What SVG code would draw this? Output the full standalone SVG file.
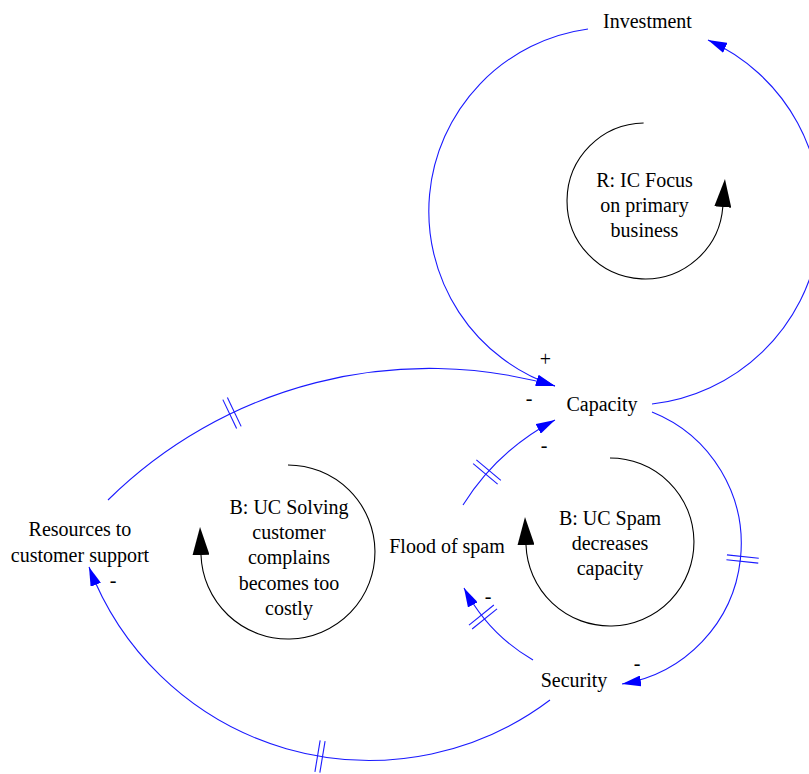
<svg xmlns="http://www.w3.org/2000/svg" xmlns:xlink="http://www.w3.org/1999/xlink" width="809" height="774" viewBox="0 0 809 774">
  <style>
    .label { font-family: "Liberation Serif", "Times New Roman", serif; font-size: 20px; fill: #000; text-anchor: middle; }
    .sign { font-family: "Liberation Serif", "Times New Roman", serif; font-size: 20px; fill: #000; text-anchor: middle; }
    .link { fill: none; stroke: #1a1aff; stroke-width: 1.1; marker-end: url(#arrow-link); }
    .loop { fill: none; stroke: #000; stroke-width: 1.1; marker-end: url(#arrow-loop); }
    .delay line { stroke: #1a1aff; stroke-width: 1.1; }
  </style>
  <defs>
    <marker id="arrow-link" viewBox="0 0 19 11" refX="19" refY="5.5" markerWidth="19" markerHeight="11" markerUnits="userSpaceOnUse" orient="auto">
      <path d="M0,0 L19,5.5 L0,11 z" fill="#0000ff"/>
    </marker>
    <marker id="arrow-loop" viewBox="0 0 28 17" refX="0" refY="8.5" markerWidth="28" markerHeight="17" markerUnits="userSpaceOnUse" orient="auto">
      <path d="M0,0 L28,8.5 L0,17 z" fill="#000"/>
    </marker>
    <!-- delay mark: two short bars across the link, local x = link direction -->
    <g id="delay-mark" class="delay">
      <line x1="-2.5" y1="-16" x2="-2.5" y2="16"/>
      <line x1="2.5" y1="-16" x2="2.5" y2="16"/>
    </g>
  </defs>

  <rect width="809" height="774" fill="#fff"/>

  <!-- causal links -->
  <g id="connectors">
    <path id="capacity-to-investment" class="link" d="M 652 404 A 191 191 0 0 0 708 40"/>
    <path id="investment-to-capacity" class="link" d="M 588 29 A 184 184 0 0 0 555 386"/>
    <path id="resources-to-capacity" class="link" d="M 108 500 A 458 458 0 0 1 555 386"/>
    <path id="flood-to-capacity" class="link" d="M 463 505 A 241 241 0 0 1 555 420"/>
    <path id="capacity-to-security" class="link" d="M 652 412 A 142 142 0 0 1 622 684"/>
    <path id="security-to-flood" class="link" d="M 533 660 A 180 180 0 0 1 464 588"/>
    <path id="security-to-resources" class="link" d="M 550 700 A 300 300 0 0 1 89 567"/>

    <use xlink:href="#delay-mark" transform="translate(232 413) rotate(-25.5)"/>
    <use xlink:href="#delay-mark" transform="translate(487 472) rotate(-50)"/>
    <use xlink:href="#delay-mark" transform="translate(742.6 559) rotate(96)"/>
    <use xlink:href="#delay-mark" transform="translate(483 617) rotate(-129)"/>
    <use xlink:href="#delay-mark" transform="translate(320 756.5) rotate(9.4)"/>

    <text class="sign" x="545.5" y="366">+</text>
    <text class="sign" x="529" y="405">-</text>
    <text class="sign" x="544" y="452">-</text>
    <text class="sign" x="488" y="603">-</text>
    <text class="sign" x="637" y="670">-</text>
    <text class="sign" x="113" y="587">-</text>
  </g>

  <!-- variables -->
  <g id="investment">
    <text class="label" x="647.5" y="28">Investment</text>
  </g>
  <g id="capacity">
    <text class="label" x="602" y="411">Capacity</text>
  </g>
  <g id="flood-of-spam">
    <text class="label" x="447" y="553">Flood of spam</text>
  </g>
  <g id="security">
    <text class="label" x="574" y="687">Security</text>
  </g>
  <g id="resources-to-customer-support">
    <text class="label" x="80" y="536">Resources to</text>
    <text class="label" x="80" y="562">customer support</text>
  </g>

  <!-- loop identifiers -->
  <g id="loop-r-ic-focus">
    <path class="loop" d="M 643.6 123 A 78 78 0 1 0 722.8 207"/>
    <text class="label" x="644.5" y="187">R: IC Focus</text>
    <text class="label" x="644.5" y="212">on primary</text>
    <text class="label" x="644.5" y="237">business</text>
  </g>
  <g id="loop-b-uc-solving">
    <path class="loop" d="M 288 465 A 87 87 0 1 1 201 555"/>
    <text class="label" x="289" y="514">B: UC Solving</text>
    <text class="label" x="289" y="539">customer</text>
    <text class="label" x="289" y="564">complains</text>
    <text class="label" x="289" y="590">becomes too</text>
    <text class="label" x="289" y="615">costly</text>
  </g>
  <g id="loop-b-uc-spam">
    <path class="loop" d="M 610 458 A 84 84 0 1 1 526 545"/>
    <text class="label" x="610" y="525">B: UC Spam</text>
    <text class="label" x="610" y="550">decreases</text>
    <text class="label" x="610" y="575">capacity</text>
  </g>
</svg>
